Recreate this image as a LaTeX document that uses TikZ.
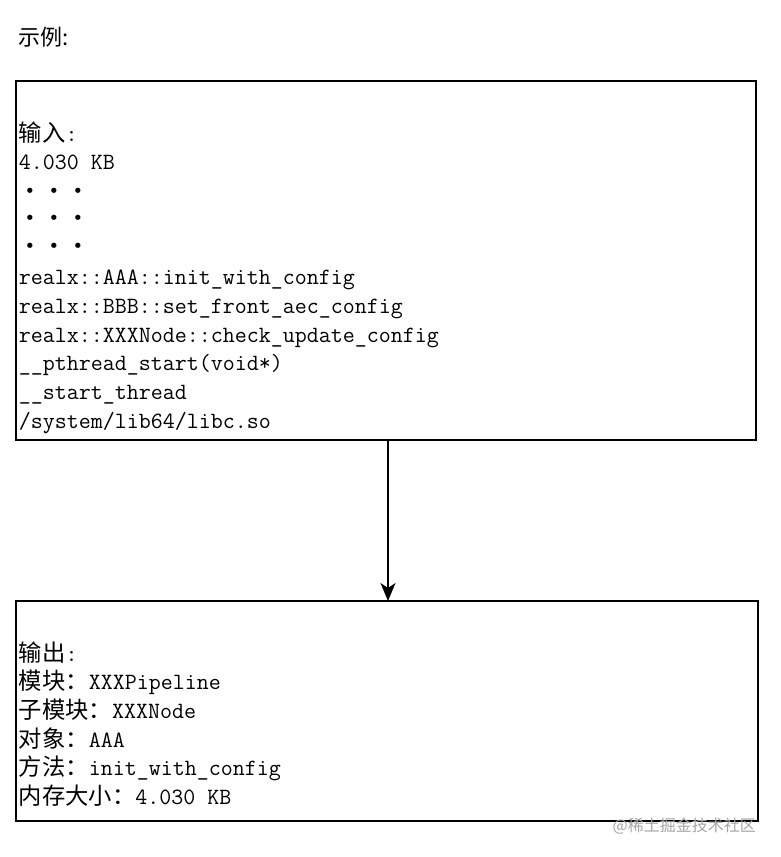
\documentclass[tikz,border=0pt]{standalone}
\usepackage{fontspec}
\usetikzlibrary{arrows.meta}
\newfontfamily\cjk{Noto Sans CJK SC}
\newfontfamily\dotfont{DejaVu Sans}
\newcommand{\cj}[1]{{\cjk #1}}
\newcommand{\bul}{\makebox[24pt]{\dotfont •}}
\begin{document}
\begin{tikzpicture}[x=1pt,y=-1pt,
  box/.style={draw=black, line width=2pt, inner sep=0pt, outer sep=0pt, anchor=north west},
  txt/.style={anchor=base west, inner sep=0pt, outer sep=0pt, font=\ttfamily\fontsize{23.3pt}{29pt}\selectfont},
  dots/.style={anchor=base west, inner sep=0pt, outer sep=0pt, font=\fontsize{18pt}{29pt}\selectfont},
  arr/.style={line width=2pt, -{Stealth[length=18pt,width=15pt,inset=5pt]}}]
\useasboundingbox (0,0) rectangle (780,857);
\fill[white] (0,0) rectangle (780,857);
% title
\node[anchor=base west, inner sep=0pt, font=\cjk\fontsize{22pt}{26pt}\selectfont] (title) at (18,45) {示例:};
% boxes
\node[box, minimum width=740pt, minimum height=359pt] (in1) at (16,81) {};
\node[box, minimum width=742pt, minimum height=220pt] (out1) at (16,601) {};
% input text
\node[txt] (i1) at (19,141) {\cj{输入}:};
\node[txt] (i2) at (19,169) {4.030 KB};
\node[dots] (d1) at (18,197.5) {\bul\bul\bul};
\node[dots] (d2) at (18,224.5) {\bul\bul\bul};
\node[dots] (d3) at (18,252) {\bul\bul\bul};
\node[txt] (i6) at (19,284.5) {realx::AAA::init\_with\_config};
\node[txt] (i7) at (19,313.3) {realx::BBB::set\_front\_aec\_config};
\node[txt] (i8) at (19,342.1) {realx::XXXNode::check\_update\_config};
\node[txt] (i9) at (19,370.9) {\_\_pthread\_start(void*)};
\node[txt] (i10) at (19,399.7) {\_\_start\_thread};
\node[txt] (i11) at (19,428.5) {/system/lib64/libc.so};
% output text
\node[txt] (o1) at (19,661) {\cj{输出}:};
\node[txt] (o2) at (19,689.5) {\cj{模块：}XXXPipeline};
\node[txt] (o3) at (19,718.3) {\cj{子模块：}XXXNode};
\node[txt] (o4) at (19,747.1) {\cj{对象：}AAA};
\node[txt] (o5) at (19,775.9) {\cj{方法：}init\_with\_config};
\node[txt] (o6) at (19,804.7) {\cj{内存大小：}4.030 KB};
% arrow
\coordinate (ax) at (388,0);
\draw[arr] (in1.south -| ax) -- (out1.north -| ax);
% watermark
\node[anchor=east, inner sep=0pt, text=black!35, font=\cjk\fontsize{16pt}{18pt}\selectfont] (wm) at (756,826) {@稀土掘金技术社区};
\end{tikzpicture}
\end{document}
